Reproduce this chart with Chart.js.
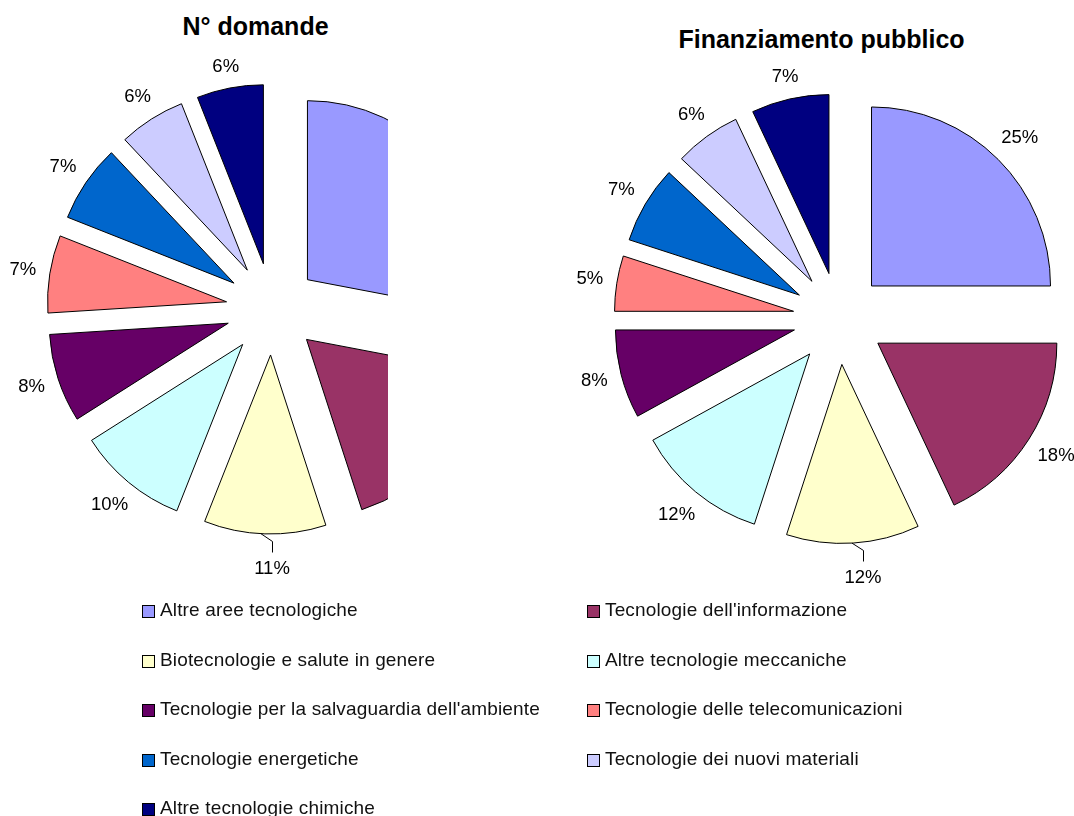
<!DOCTYPE html>
<html lang="it">
<head>
<meta charset="utf-8">
<title>Domande e finanziamento pubblico per area tecnologica</title>
<script src="https://cdn.jsdelivr.net/npm/chart.js@4.4.1/dist/chart.umd.min.js"></script>
<style>
  html, body { margin: 0; padding: 0; background: #fff; }
  body {
    width: 1074px; height: 816px; position: relative; overflow: hidden;
    font-family: "Liberation Sans", Arial, Helvetica, sans-serif; color: #000;
  }
  .title {
    position: absolute; font-weight: bold; font-size: 25px; line-height: 30px;
    white-space: nowrap; transform: translateX(-50%);
  }
  /* the first pie is cut off on its right side */
  #leftClip { position: absolute; left: 0; top: 0; width: 388px; height: 600px; overflow: hidden; }
  #leftBox { position: absolute; left: 0; top: 0; width: 544px; height: 618px; }
  #rightBox { position: absolute; left: 540px; top: 0; width: 598px; height: 637px; }
  #legend {
    position: absolute; left: 142px; top: 600px;
    display: grid; grid-template-columns: 445px auto; grid-auto-rows: 49.5px;
    font-size: 19px; letter-spacing: 0.15px; line-height: 20px; color: #111;
  }
  .item { display: flex; align-items: flex-start; white-space: nowrap; }
  .swatch {
    width: 11px; height: 11px; border: 1px solid #000; margin: 5px 5px 0 0; flex: none;
  }
</style>
</head>
<body>
<div class="title" style="left:255.5px; top:11px;">N° domande</div>
<div class="title" style="left:821.5px; top:24px;">Finanziamento pubblico</div>
<div id="leftClip"><div id="leftBox"><canvas id="domande"></canvas></div></div>
<div id="rightBox"><canvas id="finanziamento"></canvas></div>
<div id="legend"></div>

<script>
const categories = [
  'Altre aree tecnologiche',
  "Tecnologie dell'informazione",
  'Biotecnologie e salute in genere',
  'Altre tecnologie meccaniche',
  "Tecnologie per la salvaguardia dell'ambiente",
  'Tecnologie delle telecomunicazioni',
  'Tecnologie energetiche',
  'Tecnologie dei nuovi materiali',
  'Altre tecnologie chimiche'
];

// percent shares
const domande = [28, 17, 11, 10, 8, 7, 7, 6, 6];
const finanziamento = [25, 18, 12, 12, 8, 5, 7, 6, 7];

const sliceColors = [
  '#9999FF', '#993366', '#FFFFCC', '#CCFFFF', '#660066',
  '#FF8080', '#0066CC', '#CCCCFF', '#000080'
];

// Pulls every slice outwards and writes the percentage next to it
const explodedPie = {
  id: 'explodedPie',
  beforeDatasetDraw(chart, args, opts) {
    const ctx = chart.ctx;
    args.meta.data.forEach(arc => {
      const mid = (arc.startAngle + arc.endAngle) / 2;
      ctx.save();
      ctx.translate(Math.cos(mid) * opts.distance, Math.sin(mid) * opts.distance);
      arc.draw(ctx);
      ctx.restore();
    });
    return false; // skip the default drawing, already done above
  },
  afterDatasetsDraw(chart, args, opts) {
    const ctx = chart.ctx;
    const meta = chart.getDatasetMeta(0);
    const values = chart.data.datasets[0].data;

    ctx.save();
    ctx.font = opts.font;
    ctx.fillStyle = '#000';
    ctx.strokeStyle = '#000';
    ctx.lineWidth = 1;
    ctx.textAlign = 'center';
    ctx.textBaseline = 'middle';

    meta.data.forEach((arc, i) => {
      const mid = (arc.startAngle + arc.endAngle) / 2;
      const cos = Math.cos(mid), sin = Math.sin(mid);
      const cx = arc.x + cos * opts.distance;
      const cy = arc.y + sin * opts.distance;
      const r = arc.outerRadius;
      const text = values[i] + '%';

      if (sin > 0.97) {
        // label hanging below the pie, tied to it by a short leader line
        const lx = Math.round(cx + cos * (r + 34) + 8);
        const ly = Math.round(cy + sin * (r + 35));
        const dx = lx - 11 - cx;
        const sx = cx + dx, sy = cy + Math.sqrt(r * r - dx * dx);
        ctx.beginPath();
        ctx.moveTo(sx, sy);
        ctx.lineTo(lx + 0.5, ly - 27.5);
        ctx.lineTo(lx + 0.5, ly - 16.5);
        ctx.stroke();
        ctx.fillText(text, lx, ly);
        return;
      }

      const hw = ctx.measureText(text).width / 2;
      const hh = opts.capHeight / 2;
      const d = r + opts.gap + hw * Math.abs(cos) + hh * Math.abs(sin);
      ctx.fillText(text, cx + cos * d, cy + sin * d);
    });
    ctx.restore();
  }
};

function pieConfig(values) {
  return {
    type: 'pie',
    data: {
      labels: categories,
      datasets: [{
        data: values,
        backgroundColor: sliceColors,
        borderColor: '#000',
        borderWidth: 1
      }]
    },
    options: {
      responsive: true,
      maintainAspectRatio: false,
      animation: false,
      radius: 179,
      events: [],
      plugins: {
        legend: { display: false },
        tooltip: { enabled: false },
        explodedPie: {
          distance: 46,
          gap: 13,
          capHeight: 13,
          font: '18.5px "Liberation Sans", Arial, sans-serif'
        }
      }
    },
    plugins: [explodedPie]
  };
}

new Chart(document.getElementById('domande'), pieConfig(domande));
new Chart(document.getElementById('finanziamento'), pieConfig(finanziamento));

// Shared legend, filled row by row in two columns
const legend = document.getElementById('legend');
categories.forEach((name, i) => {
  const item = document.createElement('div');
  item.className = 'item';
  const swatch = document.createElement('span');
  swatch.className = 'swatch';
  swatch.style.background = sliceColors[i];
  const label = document.createElement('span');
  label.textContent = name;
  item.appendChild(swatch);
  item.appendChild(label);
  legend.appendChild(item);
});
</script>
</body>
</html>
